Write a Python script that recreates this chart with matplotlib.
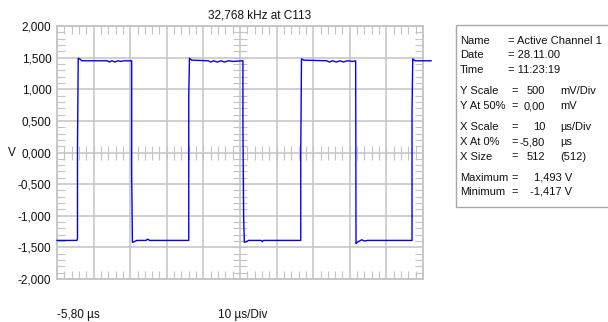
import numpy as np
import matplotlib
matplotlib.use("Agg")
import matplotlib.pyplot as plt
from matplotlib.patches import Rectangle

# === DATOS ===
title = "32,768 kHz at C113"
x_at_0 = -5.8      # µs
x_scale = 10       # µs/Div
n_div_x = 10
y_ticks = [2.0, 1.5, 1.0, 0.5, 0.0, -0.5, -1.0, -1.5, -2.0]
y_tick_labels = ["2,000", "1,500", "1,000", "0,500", "0,000", "-0,500", "-1,000", "-1,500", "-2,000"]

# trazo (µs, V)
t_us = [-5.8, -0.35, -0.2, -0.2, 0.0, 0.6, 1.0, 8.0, 8.5, 9.2, 10.0, 10.8, 11.5, 12.5, 14.5,
        14.6, 14.6, 14.8, 15.3, 16.0, 18.5, 19.0, 19.5, 30.2,
        30.2, 30.4, 31.0, 35.5, 36.2, 37.0, 38.0, 39.0, 40.0, 41.0, 42.3, 45.0,
        45.0, 45.2, 45.4, 46.0, 46.5, 50.0, 50.3, 50.6, 60.8,
        60.8, 61.0, 61.6, 67.9, 68.6, 69.5, 70.5, 71.5, 72.5, 73.5, 75.1, 75.8,
        75.9, 76.2, 76.8, 77.5, 78.2, 79.0, 91.2,
        91.2, 91.4, 92.0, 96.4]
volts = [-1.39, -1.39, -1.36, 0.09, 1.49, 1.47, 1.45, 1.45, 1.43, 1.45, 1.43, 1.45, 1.44, 1.45, 1.45,
         1.45, -0.31, -1.42, -1.41, -1.39, -1.39, -1.37, -1.39, -1.39,
         0.90, 1.49, 1.46, 1.45, 1.43, 1.45, 1.43, 1.45, 1.43, 1.45, 1.44, 1.45,
         0.38, -1.06, -1.42, -1.41, -1.39, -1.39, -1.41, -1.39, -1.39,
         0.00, 1.48, 1.46, 1.45, 1.43, 1.45, 1.43, 1.45, 1.43, 1.45, 1.44, 1.45,
         -1.44, -1.42, -1.40, -1.38, -1.40, -1.39, -1.39,
         0.65, 1.48, 1.45, 1.45]

bottom_left = "-5,80 µs"
bottom_mid = "10 µs/Div"

info_head = [("Name", "= Active Channel 1"), ("Date", "= 28.11.00"), ("Time", "= 11:23:19")]
info_scale = [("Y Scale", "500", "mV/Div"), ("Y At 50%", "0,00", "mV"),
              ("X Scale", "10", "µs/Div"), ("X At 0%", "-5,80", "µs"), ("X Size", "512", "(512)")]
info_minmax = [("Maximum", "1,493 V"), ("Minimum", "-1,417 V")]

# === ESTILO ===
W, H = 608, 322
plt.rcParams["font.family"] = ["Liberation Sans Narrow", "Liberation Sans", "DejaVu Sans"]
plt.rcParams["font.size"] = 8.5
info_fs = 8
grid_c = "#c4c4c4"
txt_c = "#111111"


def fx(x):
    return x / W


def fy(y):
    return 1 - y / H


fig = plt.figure(figsize=(W / 100, H / 100), dpi=100)
ax = fig.add_axes([fx(57), fy(279), 366 / W, 253 / H])

x_major = [x_at_0 + x_scale * i for i in range(n_div_x + 1)]
x_minor = [x_at_0 + x_scale / 5 * i for i in range(n_div_x * 5 + 1)]
y_minor = np.arange(-2.0, 2.0001, 0.1)
x_center = x_major[n_div_x // 2]

ax.set_xlim(x_major[0], x_major[-1])
ax.set_ylim(-2, 2)
ax.set_xticks(x_major)
ax.set_xticklabels([])
ax.set_yticks(y_ticks)
ax.set_yticklabels(y_tick_labels, color=txt_c)
ax.set_xticks(x_minor, minor=True)
ax.set_yticks(y_minor, minor=True)
ax.tick_params(which="major", length=0, pad=4)
ax.tick_params(which="minor", direction="in", length=6, width=0.8, color=grid_c,
               top=True, right=True, bottom=True, left=True)
ax.grid(which="major", color=grid_c, lw=1.1)
for sp in ax.spines.values():
    sp.set_color(grid_c)
    sp.set_linewidth(1.3)

# cruz central con marcas
ax.plot(x_minor, np.zeros(len(x_minor)), ls="none", marker="|", ms=10, mew=0.8, color=grid_c, zorder=1)
ax.plot(np.full(len(y_minor), x_center), y_minor, ls="none", marker="_", ms=10, mew=0.8, color=grid_c, zorder=1)

ax.plot(t_us, volts, color="#0000ff", lw=1.0, clip_on=False, zorder=3)

fig.text(fx(208), fy(15), title, ha="left", va="center", color=txt_c)
fig.text(fx(11.5), fy(153), "V", ha="center", va="center", color=txt_c)
fig.text(fx(57), fy(315), bottom_left, ha="left", va="center", color=txt_c)
fig.text(fx(218), fy(315), bottom_mid, ha="left", va="center", color=txt_c)

# === CUADRO DE INFORMACION ===
fig.patches.append(Rectangle((fx(456), fy(207)), (W + 5 - 456) / W, (207 - 25) / H,
                             transform=fig.transFigure, facecolor="white",
                             edgecolor="#a8a8a8", lw=1.0))

y = 41
for lab, val in info_head:
    fig.text(fx(460), fy(y), lab, ha="left", va="center", color=txt_c, fontsize=info_fs)
    fig.text(fx(508), fy(y), val, ha="left", va="center", color=txt_c, fontsize=info_fs)
    y += 14.5
y = 91.5
for i, (lab, val, unit) in enumerate(info_scale):
    fig.text(fx(460), fy(y), lab, ha="left", va="center", color=txt_c, fontsize=info_fs)
    fig.text(fx(511), fy(y), "=", ha="left", va="center", color=txt_c, fontsize=info_fs)
    fig.text(fx(545), fy(y), val, ha="right", va="center", color=txt_c, fontsize=info_fs)
    fig.text(fx(560), fy(y), unit, ha="left", va="center", color=txt_c, fontsize=info_fs)
    y += 14.5
    if i == 1:
        y += 7
y += 7
for lab, val in info_minmax:
    fig.text(fx(460), fy(y), lab, ha="left", va="center", color=txt_c, fontsize=info_fs)
    fig.text(fx(511), fy(y), "=", ha="left", va="center", color=txt_c, fontsize=info_fs)
    fig.text(fx(572), fy(y), val, ha="right", va="center", color=txt_c, fontsize=info_fs)
    y += 14

fig.savefig("out.png", dpi=100, facecolor="white")
